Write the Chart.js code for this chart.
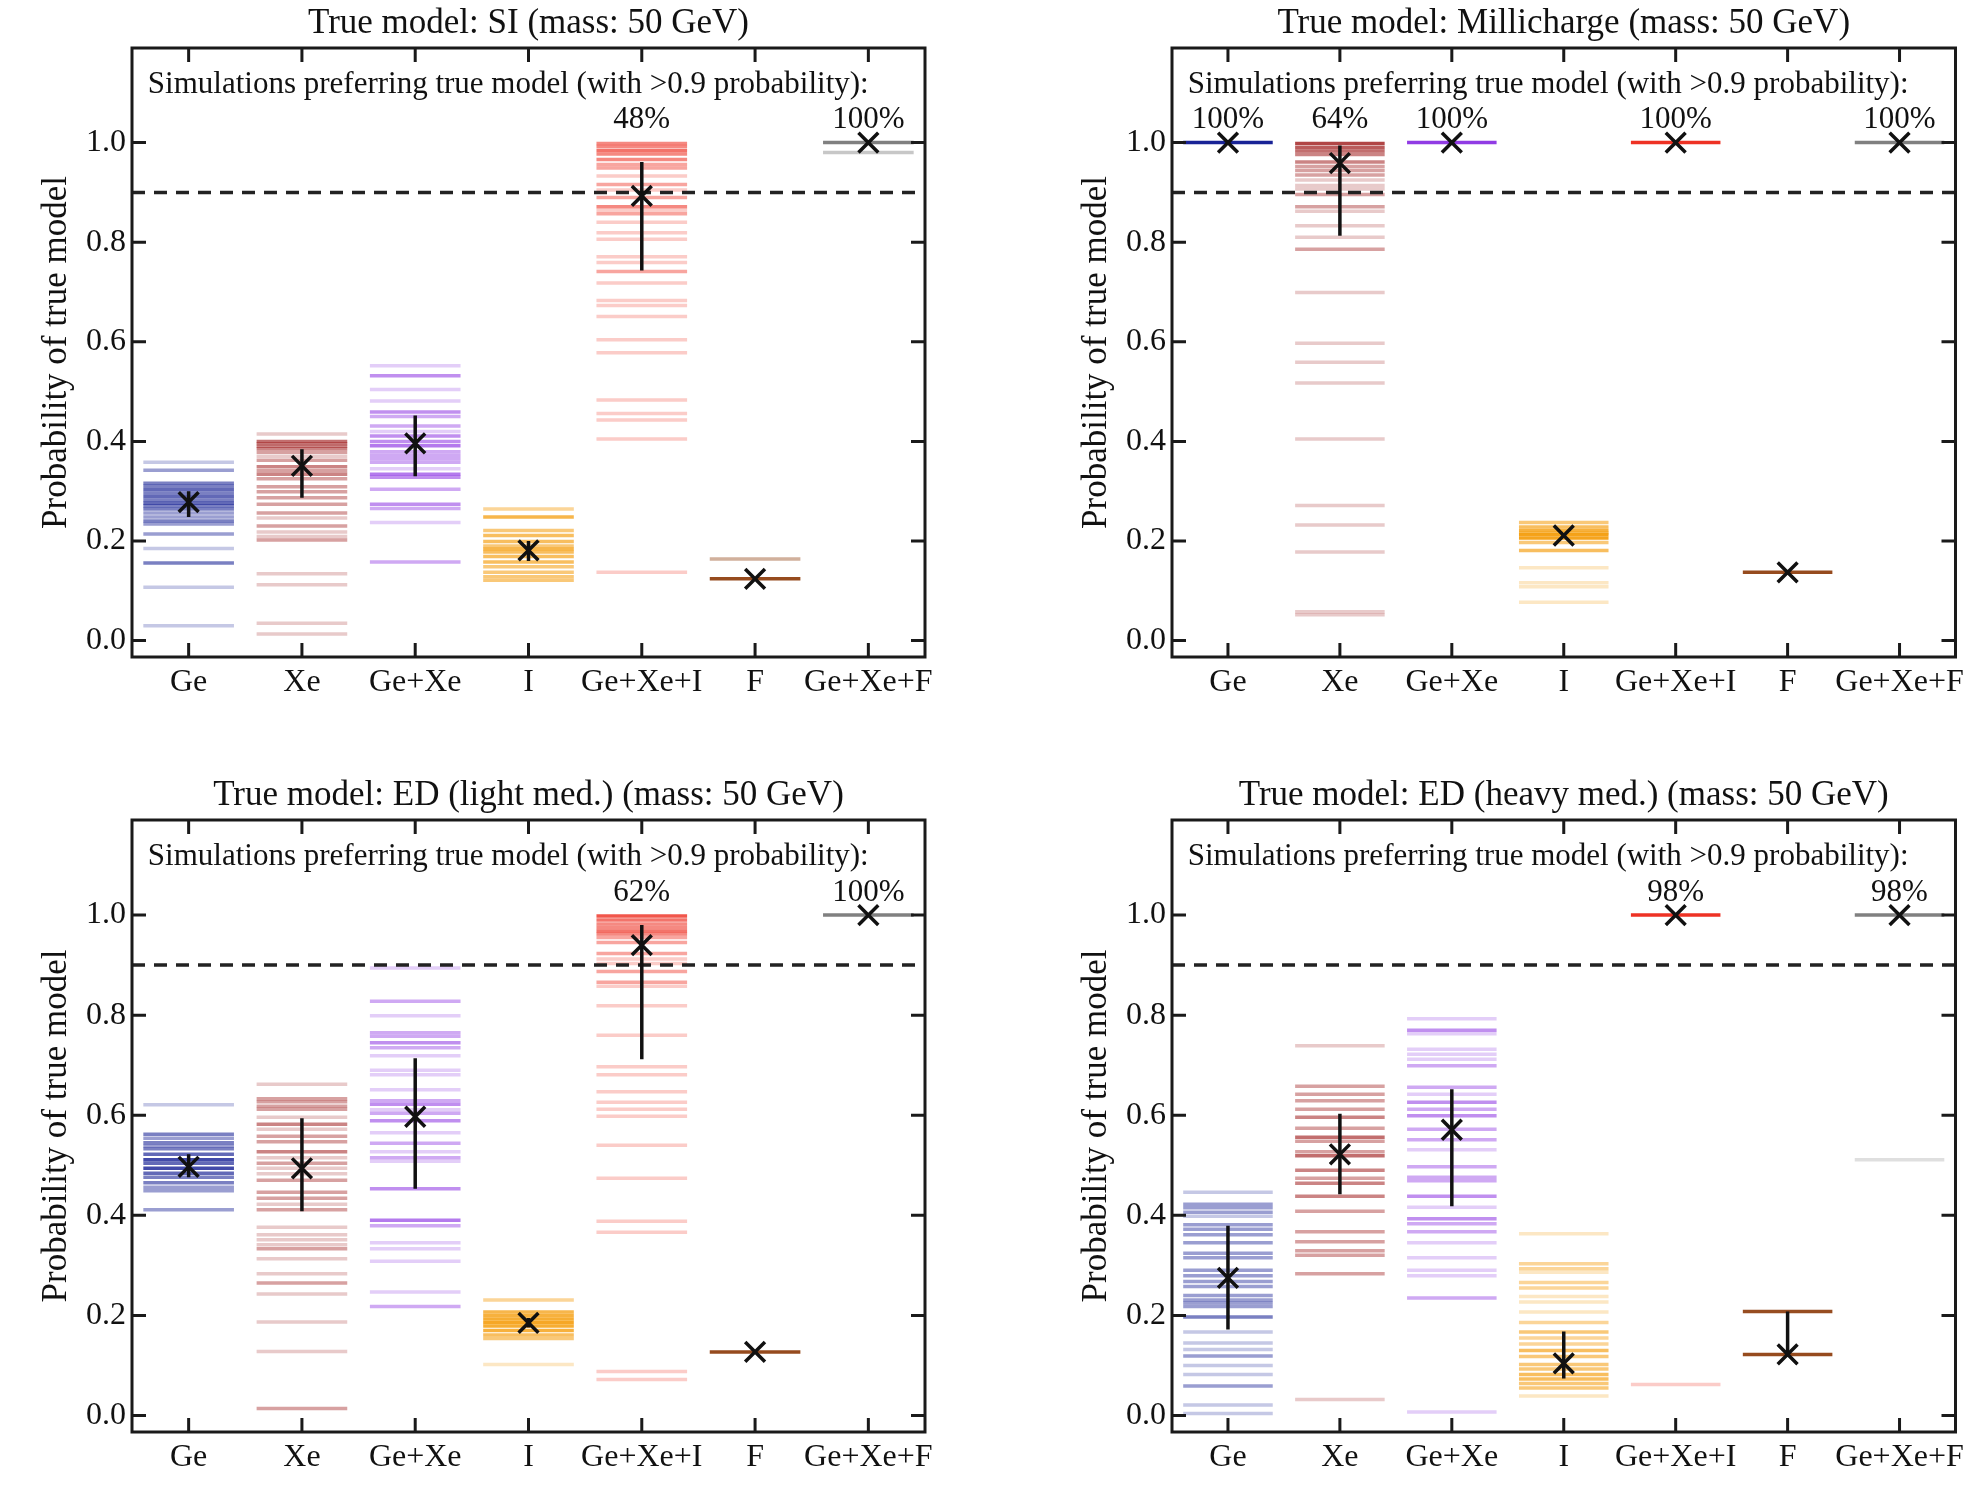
<!DOCTYPE html>
<html>
<head>
<meta charset="utf-8">
<title>Probability of true model</title>
<script src="https://cdn.jsdelivr.net/npm/chart.js@4.4.1/dist/chart.umd.min.js"></script>
<style>
  body { margin: 0; background: #fff; width: 1973px; height: 1494px; position: relative; overflow: hidden; }
  .painel { position: absolute; }
</style>
</head>
<body>
<div class="painel" style="left:0;top:0"><canvas id="cSI" width="960" height="720"></canvas></div>
<div class="painel" style="left:1040px;top:0"><canvas id="cMC" width="933" height="720"></canvas></div>
<div class="painel" style="left:0;top:772px"><canvas id="cEDL" width="960" height="723"></canvas></div>
<div class="painel" style="left:1040px;top:772px"><canvas id="cEDH" width="933" height="723"></canvas></div>
<script>
/* ── DADOS ── */
const categories = ["Ge", "Xe", "Ge+Xe", "I", "Ge+Xe+I", "F", "Ge+Xe+F"];
const yTicks = [0.0, 0.2, 0.4, 0.6, 0.8, 1.0];
const limiar = 0.9;
const textoTopo = "Simulations preferring true model (with >0.9 probability):";

// cada linha: [probabilidade, nº de simulações sobrepostas]
const siGe    = [[0.358,1],[0.342,2],[0.316,3],[0.31,3],[0.303,4],[0.296,3],[0.289,4],[0.282,3],[0.276,4],[0.27,3],[0.264,3],[0.256,2],[0.248,2],[0.24,3],[0.234,2],[0.214,2],[0.185,1],[0.156,3],[0.107,1],[0.03,1]];
const siXe    = [[0.415,1],[0.40,4],[0.395,3],[0.39,3],[0.385,3],[0.378,2],[0.37,1],[0.362,2],[0.349,3],[0.341,2],[0.334,3],[0.325,2],[0.309,2],[0.299,2],[0.287,2],[0.274,2],[0.256,2],[0.246,1],[0.23,2],[0.218,1],[0.209,1],[0.202,2],[0.134,1],[0.112,1],[0.035,1],[0.013,1]];
const siGeXe  = [[0.552,1],[0.532,3],[0.504,1],[0.481,1],[0.459,3],[0.45,2],[0.431,2],[0.42,1],[0.411,3],[0.40,3],[0.391,4],[0.379,2],[0.372,2],[0.365,2],[0.358,2],[0.345,1],[0.334,4],[0.328,3],[0.304,2],[0.274,3],[0.265,2],[0.237,1],[0.158,2]];
const siI     = [[0.264,2],[0.248,5],[0.221,3],[0.211,4],[0.199,4],[0.19,3],[0.184,5],[0.178,4],[0.169,4],[0.158,4],[0.148,3],[0.137,3],[0.128,3],[0.121,3]];
const siGeXeI = [[0.998,3],[0.992,3],[0.984,4],[0.977,3],[0.966,3],[0.956,2],[0.949,2],[0.933,1],[0.916,2],[0.905,1],[0.89,2],[0.871,3],[0.864,1],[0.857,2],[0.84,1],[0.819,1],[0.806,1],[0.771,1],[0.759,1],[0.741,2],[0.718,1],[0.683,1],[0.673,1],[0.651,1],[0.604,1],[0.578,1],[0.483,1],[0.456,1],[0.443,1],[0.405,1],[0.137,1]];
const siF     = [[0.164,2],[0.124,48]];
const siGeXeF = [[1.0,48],[0.98,2]];
const siMedian = [0.278, 0.351, 0.396, 0.181, 0.893, 0.124, 1.0];
const siLow    = [0.248, 0.287, 0.330, 0.160, 0.743, 0.124, 1.0];
const siHigh   = [0.300, 0.384, 0.452, 0.200, 0.961, 0.124, 1.0];
const siPct    = [null, null, null, null, "48%", null, "100%"];

const mcGe    = [[1.0,50]];
const mcXe    = [[0.998,7],[0.99,5],[0.983,4],[0.976,3],[0.961,3],[0.952,2],[0.944,2],[0.935,2],[0.925,1],[0.914,1],[0.907,1],[0.896,2],[0.871,2],[0.862,1],[0.833,1],[0.81,1],[0.786,2],[0.699,1],[0.597,1],[0.559,1],[0.517,1],[0.405,1],[0.271,1],[0.232,1],[0.178,1],[0.058,1],[0.052,1]];
const mcGeXe  = [[1.0,50]];
const mcI     = [[0.237,3],[0.228,4],[0.221,6],[0.216,3],[0.213,12],[0.206,11],[0.197,3],[0.181,4],[0.146,1],[0.116,1],[0.108,1],[0.077,1]];
const mcGeXeI = [[1.0,50]];
const mcF     = [[0.137,50]];
const mcGeXeF = [[1.0,50]];
const mcMedian = [1.0, 0.959, 1.0, 0.211, 1.0, 0.137, 1.0];
const mcLow    = [1.0, 0.813, 1.0, 0.211, 1.0, 0.137, 1.0];
const mcHigh   = [1.0, 0.994, 1.0, 0.211, 1.0, 0.137, 1.0];
const mcPct    = ["100%", "64%", "100%", null, "100%", null, "100%"];

const edlGe    = [[0.621,1],[0.562,3],[0.554,2],[0.545,3],[0.539,2],[0.533,3],[0.522,4],[0.511,6],[0.504,4],[0.494,6],[0.484,4],[0.476,3],[0.465,3],[0.456,2],[0.449,2],[0.411,2]];
const edlXe    = [[0.662,1],[0.633,2],[0.627,2],[0.618,2],[0.612,2],[0.596,1],[0.582,3],[0.572,1],[0.558,2],[0.547,2],[0.527,3],[0.515,1],[0.504,2],[0.494,1],[0.483,1],[0.47,2],[0.446,2],[0.434,2],[0.422,1],[0.411,2],[0.376,1],[0.361,1],[0.351,1],[0.341,1],[0.333,2],[0.313,1],[0.283,1],[0.265,2],[0.243,1],[0.187,1],[0.128,1],[0.014,2]];
const edlGeXe  = [[0.894,1],[0.828,2],[0.799,1],[0.765,2],[0.758,2],[0.745,3],[0.735,2],[0.719,1],[0.69,1],[0.681,1],[0.651,1],[0.629,2],[0.622,3],[0.611,1],[0.604,2],[0.589,3],[0.565,1],[0.544,2],[0.527,1],[0.515,2],[0.508,1],[0.453,3],[0.39,4],[0.379,2],[0.345,1],[0.333,1],[0.308,1],[0.247,1],[0.218,2]];
const edlI     = [[0.231,2],[0.207,5],[0.2,6],[0.193,7],[0.186,9],[0.179,7],[0.17,6],[0.161,4],[0.154,3],[0.102,1]];
const edlGeXeI = [[0.998,6],[0.99,4],[0.982,3],[0.975,3],[0.968,4],[0.962,3],[0.955,2],[0.945,2],[0.923,2],[0.912,1],[0.903,1],[0.887,2],[0.866,2],[0.858,1],[0.819,1],[0.76,1],[0.697,1],[0.681,1],[0.647,1],[0.626,1],[0.612,1],[0.598,1],[0.54,1],[0.474,1],[0.388,1],[0.366,1],[0.088,1],[0.072,1]];
const edlF     = [[0.127,50]];
const edlGeXeF = [[1.0,50]];
const edlMedian = [0.497, 0.494, 0.597, 0.185, 0.940, 0.127, 1.0];
const edlLow    = [0.476, 0.408, 0.453, 0.176, 0.712, 0.127, 1.0];
const edlHigh   = [0.522, 0.594, 0.714, 0.195, 0.980, 0.127, 1.0];
const edlPct    = [null, null, null, null, "62%", null, "100%"];

const edhGe    = [[0.446,1],[0.422,2],[0.415,2],[0.406,2],[0.398,1],[0.381,2],[0.372,2],[0.361,2],[0.345,2],[0.324,2],[0.315,2],[0.29,2],[0.279,2],[0.268,2],[0.258,2],[0.24,2],[0.231,2],[0.225,2],[0.218,2],[0.197,3],[0.167,1],[0.145,1],[0.132,1],[0.119,2],[0.1,1],[0.082,1],[0.059,2],[0.021,1],[0.004,1]];
const edhXe    = [[0.739,1],[0.658,2],[0.642,2],[0.629,2],[0.612,2],[0.596,3],[0.574,2],[0.556,4],[0.548,2],[0.527,2],[0.519,4],[0.49,3],[0.474,2],[0.464,3],[0.438,3],[0.408,2],[0.367,2],[0.347,2],[0.329,2],[0.32,2],[0.283,2],[0.032,1]];
const edhGeXe  = [[0.793,1],[0.77,3],[0.763,1],[0.732,1],[0.722,1],[0.712,1],[0.699,2],[0.656,2],[0.642,1],[0.626,3],[0.612,2],[0.599,3],[0.572,2],[0.551,2],[0.531,1],[0.497,2],[0.476,2],[0.469,2],[0.438,3],[0.416,1],[0.393,3],[0.383,2],[0.367,2],[0.345,1],[0.315,1],[0.29,1],[0.279,1],[0.235,2],[0.007,1]];
const edhI     = [[0.363,1],[0.303,2],[0.293,2],[0.286,1],[0.266,2],[0.255,2],[0.238,1],[0.227,1],[0.207,1],[0.186,2],[0.167,3],[0.155,2],[0.143,2],[0.13,4],[0.118,3],[0.102,3],[0.093,3],[0.082,4],[0.073,4],[0.064,3],[0.055,3],[0.039,1]];
const edhGeXeI = [[1.0,49],[0.062,1]];
const edhF     = [[0.208,15],[0.122,35]];
const edhGeXeF = [[1.0,49],[0.511,1]];
const edhMedian = [0.275, 0.522, 0.571, 0.104, 1.0, 0.122, 1.0];
const edhLow    = [0.172, 0.442, 0.418, 0.074, 1.0, 0.122, 1.0];
const edhHigh   = [0.379, 0.603, 0.652, 0.168, 1.0, 0.208, 1.0];
const edhPct    = [null, null, null, null, "98%", null, "98%"];

/* ── ESTILO ── */
const fonte = "'Liberation Serif', 'DejaVu Serif', serif";
const corTexto = "#111";
const paleta = [[25,35,150],[165,42,42],[145,60,228],[245,160,20],[238,50,36],[150,75,30],[128,128,128]];
const alfaLinha = 0.25;
const meiaBarra = 0.4;
const xMin = -0.5, xMax = 6.5, yMin = -0.033, yMax = 1.19;

function cor(i, n) {
  const a = 1 - Math.pow(1 - alfaLinha, n);
  const c = paleta[i];
  return `rgba(${c[0]},${c[1]},${c[2]},${a.toFixed(3)})`;
}

function meiaLargura(chart) {
  const s = chart.scales.x;
  if (!s) return 45;
  return Math.abs(s.getPixelForValue(meiaBarra) - s.getPixelForValue(0));
}

/* ── MOLDURA COM TICKS PARA DENTRO ── */
const moldura = {
  id: "moldura",
  afterDatasetsDraw(chart) {
    const { ctx, chartArea: a, scales: { x, y } } = chart;
    const len = 14;
    ctx.save();
    ctx.strokeStyle = "#1a1a1a";
    ctx.lineWidth = 3;
    ctx.strokeRect(a.left, a.top, a.right - a.left, a.bottom - a.top);
    ctx.beginPath();
    x.ticks.forEach(t => {
      const px = x.getPixelForValue(t.value);
      ctx.moveTo(px, a.bottom); ctx.lineTo(px, a.bottom - len);
      ctx.moveTo(px, a.top);    ctx.lineTo(px, a.top + len);
    });
    y.ticks.forEach(t => {
      const py = y.getPixelForValue(t.value);
      ctx.moveTo(a.left, py);  ctx.lineTo(a.left + len, py);
      ctx.moveTo(a.right, py); ctx.lineTo(a.right - len, py);
    });
    ctx.stroke();
    ctx.restore();
  }
};

/* ── TEXTOS DENTRO DO GRÁFICO ── */
function anotacoes(pct) {
  return {
    id: "anotacoes",
    afterDatasetsDraw(chart) {
      const { ctx, scales: { x, y } } = chart;
      ctx.save();
      ctx.fillStyle = corTexto;
      ctx.font = "31px " + fonte;
      ctx.textBaseline = "middle";
      ctx.textAlign = "left";
      ctx.fillText(textoTopo, x.getPixelForValue(-0.36), y.getPixelForValue(1.116));
      ctx.textAlign = "center";
      pct.forEach((p, i) => {
        if (p) ctx.fillText(p, x.getPixelForValue(i), y.getPixelForValue(1.045));
      });
      ctx.restore();
    }
  };
}

/* ── DATASETS ── */
function montarDatasets(p) {
  const sets = [];

  // medianas (X)
  sets.push({
    data: p.median.map((m, i) => ({ x: i, y: m })),
    pointStyle: "crossRot", pointRadius: 14, pointBorderWidth: 3.5,
    pointBorderColor: corTexto, pointBackgroundColor: "transparent", order: 0
  });

  // barras de erro
  sets.push({
    data: p.low.flatMap((lo, i) => [{ x: i, y: lo }, { x: i, y: p.high[i] }, { x: i, y: null }]),
    showLine: true, spanGaps: false, pointRadius: 0,
    borderColor: corTexto, borderWidth: 3.5, order: 1
  });

  // limiar 0.9
  sets.push({
    data: [{ x: xMin, y: limiar }, { x: xMax, y: limiar }],
    showLine: true, pointRadius: 0, borderColor: "#222", borderWidth: 3.5,
    borderDash: [13, 9], order: 2
  });

  // uma linha horizontal por simulação
  p.lines.forEach((linhas, i) => {
    sets.push({
      data: linhas.map(([v, n]) => ({ x: i, y: v, n })),
      pointStyle: "line",
      pointRadius: ctx => meiaLargura(ctx.chart),
      pointBorderWidth: 3.5,
      pointBorderColor: ctx => cor(i, ctx.raw ? ctx.raw.n : 1),
      pointBackgroundColor: "transparent",
      order: 3
    });
  });

  return sets;
}

/* ── PAINÉIS ── */
const paineis = [
  { canvas: "cSI",  titulo: "True model: SI (mass: 50 GeV)", dir: 35, baixo: 3,
    lines: [siGe, siXe, siGeXe, siI, siGeXeI, siF, siGeXeF], median: siMedian, low: siLow, high: siHigh, pct: siPct },
  { canvas: "cMC",  titulo: "True model: Millicharge (mass: 50 GeV)", dir: 11, baixo: 3,
    lines: [mcGe, mcXe, mcGeXe, mcI, mcGeXeI, mcF, mcGeXeF], median: mcMedian, low: mcLow, high: mcHigh, pct: mcPct },
  { canvas: "cEDL", titulo: "True model: ED (light med.) (mass: 50 GeV)", dir: 35, baixo: 3,
    lines: [edlGe, edlXe, edlGeXe, edlI, edlGeXeI, edlF, edlGeXeF], median: edlMedian, low: edlLow, high: edlHigh, pct: edlPct },
  { canvas: "cEDH", titulo: "True model: ED (heavy med.) (mass: 50 GeV)", dir: 11, baixo: 3,
    lines: [edhGe, edhXe, edhGeXe, edhI, edhGeXeI, edhF, edhGeXeF], median: edhMedian, low: edhLow, high: edhHigh, pct: edhPct }
];

function montarPainel(p) {
  new Chart(document.getElementById(p.canvas), {
    type: "scatter",
    data: { datasets: montarDatasets(p) },
    options: {
      responsive: false,
      animation: false,
      devicePixelRatio: 1,
      events: [],
      layout: { padding: { left: 0, right: p.dir, top: 0, bottom: p.baixo } },
      plugins: {
        legend: { display: false },
        tooltip: { enabled: false },
        title: {
          display: true, text: p.titulo, fullSize: false, color: corTexto,
          font: { family: fonte, size: 35, weight: "normal", lineHeight: 1.2 },
          padding: { top: 3, bottom: 3 }
        }
      },
      scales: {
        x: {
          type: "linear", min: xMin, max: xMax,
          grid: { display: false, drawTicks: false },
          border: { display: false },
          afterBuildTicks: s => { s.ticks = categories.map((_, i) => ({ value: i })); },
          afterFit: s => { s.height = 60; },
          ticks: {
            autoSkip: false, maxRotation: 0, padding: 6, color: corTexto,
            font: { family: fonte, size: 32 },
            callback: v => categories[v]
          }
        },
        y: {
          type: "linear", min: yMin, max: yMax,
          grid: { display: false, drawTicks: false },
          border: { display: false },
          afterBuildTicks: s => { s.ticks = yTicks.map(v => ({ value: v })); },
          afterFit: s => { s.width = 132; },
          ticks: {
            padding: 6, color: corTexto,
            font: { family: fonte, size: 32 },
            callback: v => v.toFixed(1)
          },
          title: {
            display: true, text: "Probability of true model", color: corTexto,
            font: { family: fonte, size: 35, lineHeight: 1.2 },
            padding: { top: 36, bottom: 0 }
          }
        }
      }
    },
    plugins: [moldura, anotacoes(p.pct)]
  });
}

document.addEventListener("DOMContentLoaded", () => {
  paineis.forEach(montarPainel);
});
</script>
</body>
</html>
